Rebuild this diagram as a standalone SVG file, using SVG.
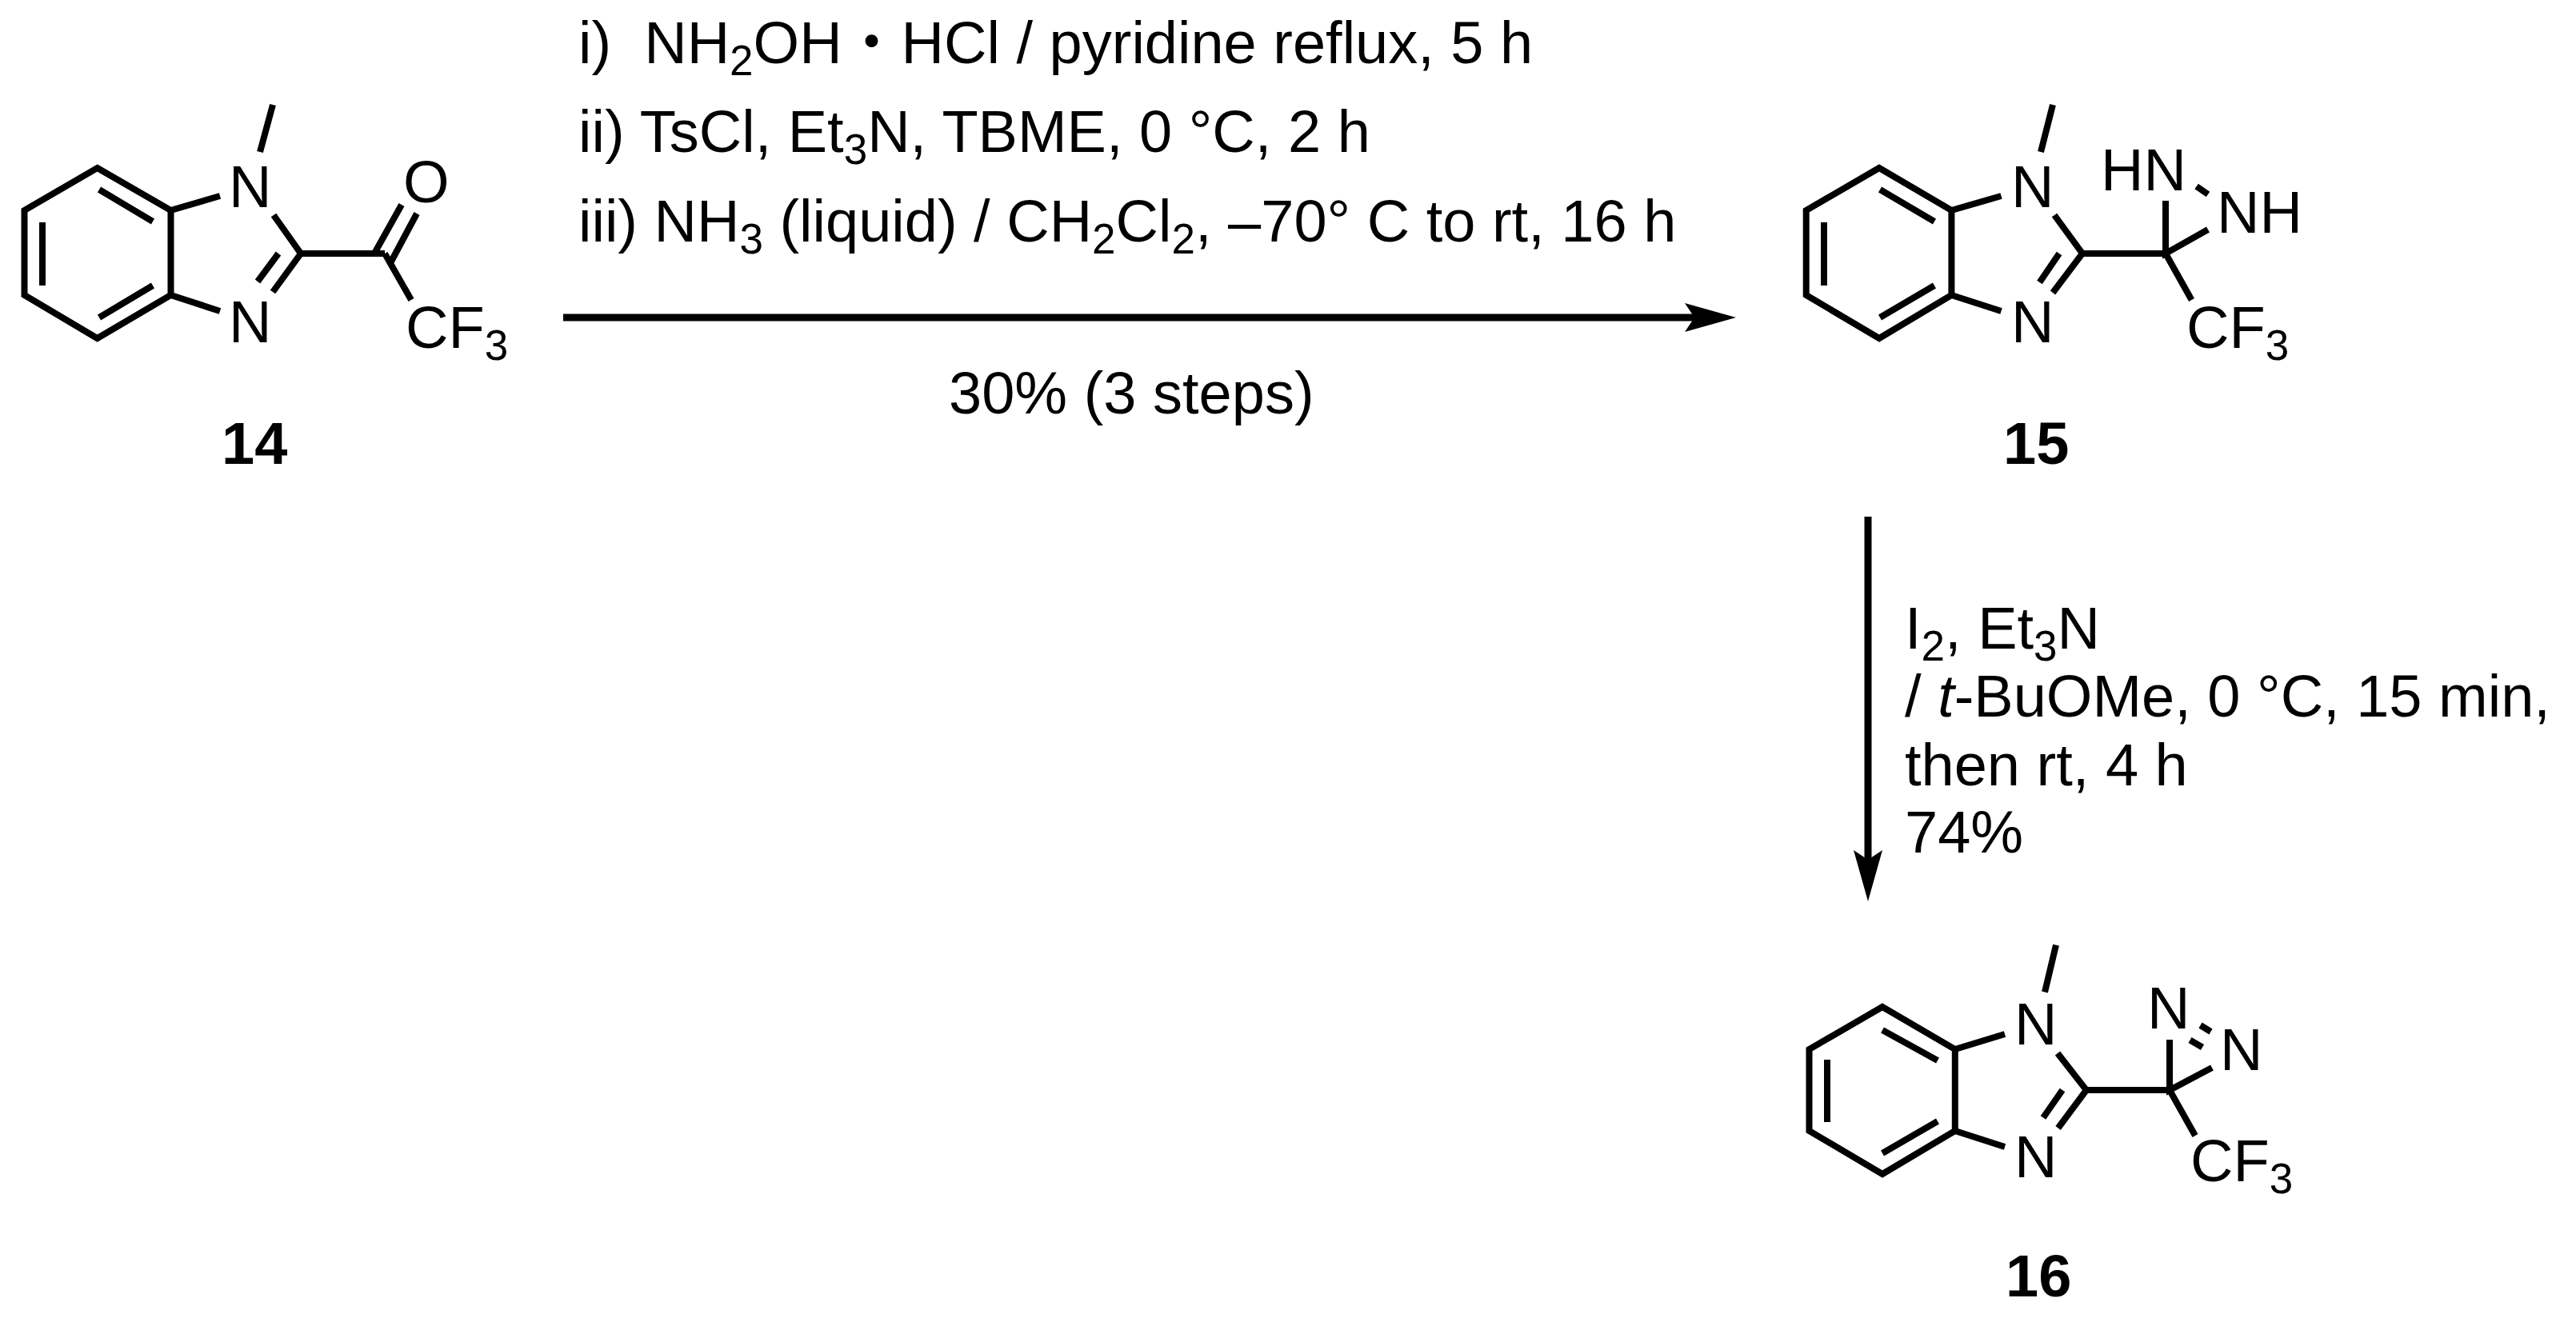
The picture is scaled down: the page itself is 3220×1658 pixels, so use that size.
<svg xmlns="http://www.w3.org/2000/svg" width="3220" height="1658" viewBox="0 0 3220 1658">
<style>
text{font-family:"Liberation Sans",Arial,"Noto Sans CJK JP",sans-serif;font-size:74px;fill:#000;white-space:pre}
.s{font-size:53px}
.b{font-weight:bold}
.i{font-style:italic}
.bond{fill:none;stroke:#000;stroke-width:8;stroke-linejoin:miter;stroke-linecap:butt}
.arrow{fill:none;stroke:#000;stroke-width:9;marker-end:url(#head)}
</style>
<defs>
<marker id="head" markerUnits="userSpaceOnUse" viewBox="0 0 64 36" markerWidth="64" markerHeight="36" refX="12" refY="18" orient="auto"><path d="M0 0L64 18L0 36L12 18z" fill="#000"/></marker>
</defs>
<rect width="3220" height="1658" fill="#fff"/>
<g id="connectors">
<line class="arrow" x1="704" y1="397" x2="2118" y2="397"/>
<line class="arrow" x1="2335" y1="646" x2="2335" y2="1075"/>
</g>
<g id="conditions-top">
<text x="723" y="79">i)  NH<tspan class="s" dy="15">2</tspan><tspan dy="-15">OH・HCl / pyridine reflux, 5 h</tspan></text>
<text x="723" y="190">ii) TsCl, Et<tspan class="s" dy="15">3</tspan><tspan dy="-15">N, TBME, 0 °C, 2 h</tspan></text>
<text x="723" y="302">iii) NH<tspan class="s" dy="15">3</tspan><tspan dy="-15"> (liquid) / CH</tspan><tspan class="s" dy="15">2</tspan><tspan dy="-15">Cl</tspan><tspan class="s" dy="15">2</tspan><tspan dy="-15">, –70° C to rt, 16 h</tspan></text>
<text x="1186" y="517">30% (3 steps)</text>
</g>
<g id="conditions-right">
<text x="2381" y="811">I<tspan class="s" dy="15">2</tspan><tspan dy="-15">, Et</tspan><tspan class="s" dy="15">3</tspan><tspan dy="-15">N</tspan></text>
<text x="2381" y="896">/ <tspan class="i">t</tspan>-BuOMe, 0 °C, 15 min,</text>
<text x="2381" y="982">then rt, 4 h</text>
<text x="2381" y="1066">74%</text>
</g>
<g id="compound-14">
<path class="bond" d="M121.6 210L213.5 263V369L121.6 423L30.5 369V263Z"/>
<path class="bond" d="M124 237L191 277M53 278V357M191 357L124 397M213.5 263L275 245M213.5 369L275 389M325 190L341 131M342 269L376 317L341 365M348 317L322 352M376 317H481M469 315L502 256M489 327L521 267M481 317L514 375"/>
<text x="286" y="259">N</text>
<text x="286" y="428">N</text>
<text x="504" y="253">O</text>
<text x="507" y="435">CF<tspan class="s" dy="15">3</tspan></text>
<text class="b" x="277" y="580">14</text>
</g>
<g id="compound-15">
<path class="bond" d="M2349 210L2439.4 263V369L2349 423L2257.7 369V263Z"/>
<path class="bond" d="M2350 237L2418 277M2280 278V357M2418 357L2350 397M2439.4 263L2501.5 245M2439.4 369L2501.5 389M2551 190L2566 131M2568 269L2603 317L2566 366M2574 317L2549.5 353M2603 317H2707M2707 251V317L2760 287M2707 317L2739.5 375M2745.6 233L2760 243"/>
<text x="2514" y="259">N</text>
<text x="2514" y="428">N</text>
<text x="2626" y="238">HN</text>
<text x="2771" y="291">NH</text>
<text x="2733" y="435">CF<tspan class="s" dy="15">3</tspan></text>
<text class="b" x="2504" y="580">15</text>
</g>
<g id="compound-16">
<path class="bond" d="M2353 1259L2443.8 1312V1414L2353 1468L2261.5 1414V1312Z"/>
<path class="bond" d="M2353 1288L2422 1326M2284 1325V1403M2422 1402L2353 1442M2443.8 1312L2506 1293M2443.8 1414L2506 1434M2556 1240.5L2570 1181.6M2572 1317L2608 1363L2572.6 1410.5M2578 1363L2554 1397.5M2608 1363H2712M2712 1300V1363L2765 1335M2712 1363L2744 1420M2750.5 1282L2763.5 1290M2737.5 1300.5L2753 1309.5"/>
<text x="2518" y="1306">N</text>
<text x="2518" y="1472">N</text>
<text x="2684" y="1286">N</text>
<text x="2775" y="1338">N</text>
<text x="2738" y="1477">CF<tspan class="s" dy="15">3</tspan></text>
<text class="b" x="2507" y="1621">16</text>
</g>
</svg>
